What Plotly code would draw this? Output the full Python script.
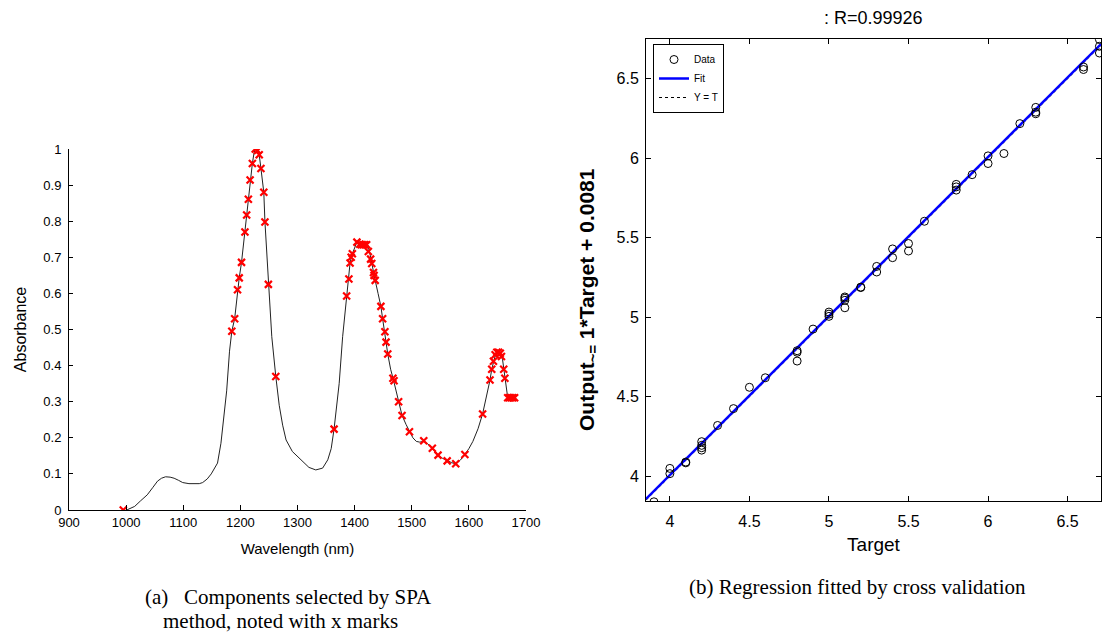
"""
plot.py - NIR spectrum with SPA-selected wavelengths (a) and the
cross-validation regression of output vs target (b), side by side.
"""
import plotly.graph_objects as go

W, H = 1103, 633

# ---------------------------------------------------------------------------
# (a) spectrum
# ---------------------------------------------------------------------------
wavelength = [1001, 1015, 1025, 1037, 1047, 1055, 1062, 1069, 1077, 1084,
              1092, 1099, 1110, 1119, 1128, 1134, 1142, 1149, 1155, 1160,
              1166, 1172, 1176, 1181, 1185, 1190, 1195, 1198, 1202, 1208,
              1211, 1214, 1217, 1221, 1224, 1226, 1230, 1233, 1236, 1241,
              1243, 1249, 1255, 1262, 1268, 1274, 1280, 1291, 1306, 1320,
              1332, 1344, 1353, 1359, 1364, 1369, 1373, 1379, 1386, 1390,
              1392, 1395, 1397, 1400, 1404, 1408, 1413, 1418, 1423, 1426,
              1429, 1433, 1436, 1441, 1446, 1449, 1453, 1455, 1458, 1463,
              1468, 1477, 1483, 1490, 1496, 1502, 1508, 1514, 1521, 1528,
              1536, 1546, 1554, 1562, 1570, 1577, 1585, 1593, 1600, 1607,
              1616, 1624, 1632, 1637, 1640, 1643, 1647, 1651, 1655, 1659,
              1662, 1665, 1668, 1672, 1676, 1680]
absorbance = [0.0, 0.01, 0.025, 0.042, 0.063, 0.08, 0.088, 0.092, 0.091, 0.088,
              0.082, 0.076, 0.073, 0.072, 0.073, 0.076, 0.086, 0.10, 0.115, 0.13,
              0.185, 0.27, 0.33, 0.44, 0.495, 0.53, 0.61, 0.643, 0.686, 0.77,
              0.817, 0.861, 0.914, 0.96, 0.99, 1.0, 0.996, 0.984, 0.946, 0.88,
              0.798, 0.625, 0.48, 0.37, 0.29, 0.235, 0.194, 0.162, 0.139, 0.118,
              0.111, 0.116, 0.139, 0.17, 0.224, 0.29, 0.351, 0.48, 0.593, 0.64,
              0.684, 0.706, 0.714, 0.73, 0.742, 0.736, 0.735, 0.735, 0.734, 0.716,
              0.689, 0.658, 0.636, 0.60, 0.564, 0.53, 0.494, 0.465, 0.432, 0.39,
              0.36, 0.30, 0.262, 0.237, 0.217, 0.20, 0.19, 0.188, 0.19, 0.183,
              0.171, 0.152, 0.143, 0.136, 0.131, 0.128, 0.138, 0.154, 0.17, 0.19,
              0.225, 0.266, 0.32, 0.36, 0.39, 0.412, 0.433, 0.437, 0.434, 0.416,
              0.385, 0.344, 0.311, 0.311, 0.311, 0.311]

# wavelengths picked by SPA (red x marks)
spa_wl = [995, 1185, 1190, 1195, 1198, 1202, 1208, 1211, 1214, 1217, 1221,
          1226, 1230, 1233, 1236, 1241, 1243, 1249, 1262, 1364, 1386, 1390,
          1392, 1394, 1396, 1404, 1409, 1412, 1415, 1418, 1421, 1424, 1428,
          1430, 1433, 1434, 1436, 1446, 1449, 1453, 1455, 1458, 1467, 1469,
          1477, 1483, 1496, 1521, 1536, 1546, 1562, 1577, 1593, 1624, 1637,
          1640, 1643, 1646, 1649, 1652, 1655, 1657, 1661, 1663, 1668, 1671,
          1674, 1677, 1680]
spa_abs = [0.0, 0.495, 0.53, 0.61, 0.643, 0.686, 0.77, 0.817, 0.861, 0.914, 0.96,
           1.0, 0.996, 0.984, 0.946, 0.88, 0.798, 0.625, 0.37, 0.224, 0.593, 0.64,
           0.684, 0.70, 0.71, 0.742, 0.736, 0.735, 0.735, 0.735, 0.735, 0.716, 0.695,
           0.683, 0.658, 0.65, 0.636, 0.564, 0.53, 0.494, 0.465, 0.432, 0.365, 0.358,
           0.30, 0.262, 0.217, 0.192, 0.171, 0.152, 0.136, 0.128, 0.154, 0.266, 0.36,
           0.39, 0.412, 0.43, 0.437, 0.437, 0.434, 0.425, 0.39, 0.365, 0.311, 0.311,
           0.311, 0.311, 0.311]

wl_ticks = [900, 1000, 1100, 1200, 1300, 1400, 1500, 1600, 1700]
abs_ticks = [0, 0.1, 0.2, 0.3, 0.4, 0.5, 0.6, 0.7, 0.8, 0.9, 1]

# ---------------------------------------------------------------------------
# (b) regression
# ---------------------------------------------------------------------------
target = [3.9, 4.0, 4.0, 4.1, 4.1, 4.2, 4.2, 4.2, 4.2, 4.3, 4.4, 4.5, 4.6,
          4.8, 4.8, 4.8, 4.9, 5.0, 5.0, 5.0, 5.1, 5.1, 5.1, 5.1, 5.2, 5.2,
          5.3, 5.3, 5.4, 5.4, 5.5, 5.5, 5.6, 5.8, 5.8, 5.8, 5.9, 6.0, 6.0,
          6.1, 6.2, 6.3, 6.3, 6.3, 6.6, 6.6, 6.7, 6.7, 6.7]
output = [3.84, 4.05, 4.017, 4.085, 4.09, 4.218, 4.195, 4.18, 4.165, 4.32, 4.426,
          4.56, 4.62, 4.79, 4.78, 4.725, 4.926, 5.033, 5.02, 5.006, 5.128, 5.12,
          5.107, 5.06, 5.187, 5.19, 5.32, 5.285, 5.43, 5.375, 5.464, 5.417, 5.604,
          5.836, 5.82, 5.80, 5.897, 6.015, 5.967, 6.03, 6.218, 6.32, 6.29, 6.28,
          6.574, 6.558, 6.747, 6.704, 6.662]

fit_slope, fit_intercept = 1.0, 0.0081
r_value = 0.99926
target_ticks = [4, 4.5, 5, 5.5, 6, 6.5]
target_range = [3.85, 6.71]
output_range = [3.845, 6.75]

fit_x = target_range
fit_y = [fit_slope * t + fit_intercept for t in fit_x]


def px_x(p):
    """Pixel column -> paper fraction."""
    return p / W


def px_y(p):
    """Pixel row -> paper fraction."""
    return 1 - p / H


SANS = 'Liberation Sans, Arial, sans-serif'
SERIF = 'Liberation Serif, Times New Roman, serif'


def label(text, x, y, size, family=SANS, **kw):
    return dict(text=text, x=px_x(x), y=px_y(y), xref='paper', yref='paper',
                xanchor='center', yanchor='middle', showarrow=False,
                font=dict(family=family, size=size), **kw)


fig = go.Figure()

fig.add_trace(go.Scatter(
    x=wavelength, y=absorbance, mode='lines',
    line=dict(color='#222222', width=1),
    showlegend=False, xaxis='x', yaxis='y',
))
fig.add_trace(go.Scatter(
    x=spa_wl, y=spa_abs, mode='markers',
    marker=dict(symbol='x-thin', size=7, color='red',
                line=dict(color='red', width=2.2)),
    showlegend=False, xaxis='x', yaxis='y',
))

# Y = T first so it sits under the fit line
fig.add_trace(go.Scatter(
    x=target_range, y=target_range, mode='lines', name='Y = T',
    line=dict(color='black', width=1, dash='dot'),
    legendrank=3, xaxis='x2', yaxis='y2',
))
fig.add_trace(go.Scatter(
    x=fit_x, y=fit_y, mode='lines', name='Fit',
    line=dict(color='#0000ff', width=2.5),
    legendrank=2, xaxis='x2', yaxis='y2',
))
fig.add_trace(go.Scatter(
    x=target, y=output, mode='markers', name='Data',
    marker=dict(symbol='circle-open', size=8, color='black',
                line=dict(color='black', width=1)),
    legendrank=1, xaxis='x2', yaxis='y2',
))

axis_common = dict(
    showgrid=False, zeroline=False, showline=True, linecolor='black',
    linewidth=1, ticks='inside', tickcolor='black', automargin=False,
)

fig.update_layout(
    width=W, height=H,
    margin=dict(l=0, r=0, t=0, b=0, autoexpand=False),
    paper_bgcolor='white', plot_bgcolor='white',
    font=dict(family=SANS, color='black'),
    xaxis=dict(
        **axis_common, domain=[px_x(69), px_x(526)], range=[900, 1700],
        tickvals=wl_ticks, ticklen=5, tickfont=dict(size=13),
        title=dict(text='Wavelength (nm)', font=dict(size=15), standoff=14),
        anchor='y',
    ),
    yaxis=dict(
        **axis_common, domain=[px_y(510), px_y(149)], range=[0, 1],
        tickvals=abs_ticks, ticktext=[f'{v:g}' for v in abs_ticks],
        ticklen=4, tickfont=dict(size=13), ticklabelstandoff=4,
        title=dict(text='Absorbance', font=dict(size=16), standoff=12),
        anchor='x',
    ),
    xaxis2=dict(
        **axis_common, domain=[px_x(646), px_x(1101)], range=target_range,
        tickvals=target_ticks, ticktext=[f'{v:g}' for v in target_ticks],
        ticklen=5, mirror='ticks', tickfont=dict(size=16), ticklabelstandoff=6,
        title=dict(text='Target', font=dict(size=19), standoff=8),
        anchor='y2',
    ),
    yaxis2=dict(
        **axis_common, domain=[px_y(501), px_y(39)], range=output_range,
        tickvals=target_ticks, ticktext=[f'{v:g}' for v in target_ticks],
        ticklen=5, mirror='ticks', tickfont=dict(size=16), ticklabelstandoff=3,
        anchor='x2',
    ),
    legend=dict(
        x=px_x(653), y=px_y(44), xanchor='left', yanchor='top',
        bgcolor='white', bordercolor='black', borderwidth=1,
        font=dict(size=10), tracegroupgap=0, itemwidth=30,
    ),
    annotations=[
        label(f': R={r_value}', 873, 18, 18),
        label(f'<b>Output<sub>~=</sub> {fit_slope:g}*Target + {fit_intercept}</b>',
              588, 300, 21, textangle=-90),
        label('(a)   Components selected by SPA', 288, 597, 21, SERIF),
        label('method, noted with x marks', 280, 621, 21, SERIF),
        label('(b) Regression fitted by cross validation', 857, 587, 21, SERIF),
    ],
)

# drop the default page margin so the figure fills the 1103x633 window exactly
fig.write_html(
    'out.html',
    config={'displayModeBar': False},
    post_script="document.body.style.margin='0';"
                "document.body.style.overflow='hidden';",
)
